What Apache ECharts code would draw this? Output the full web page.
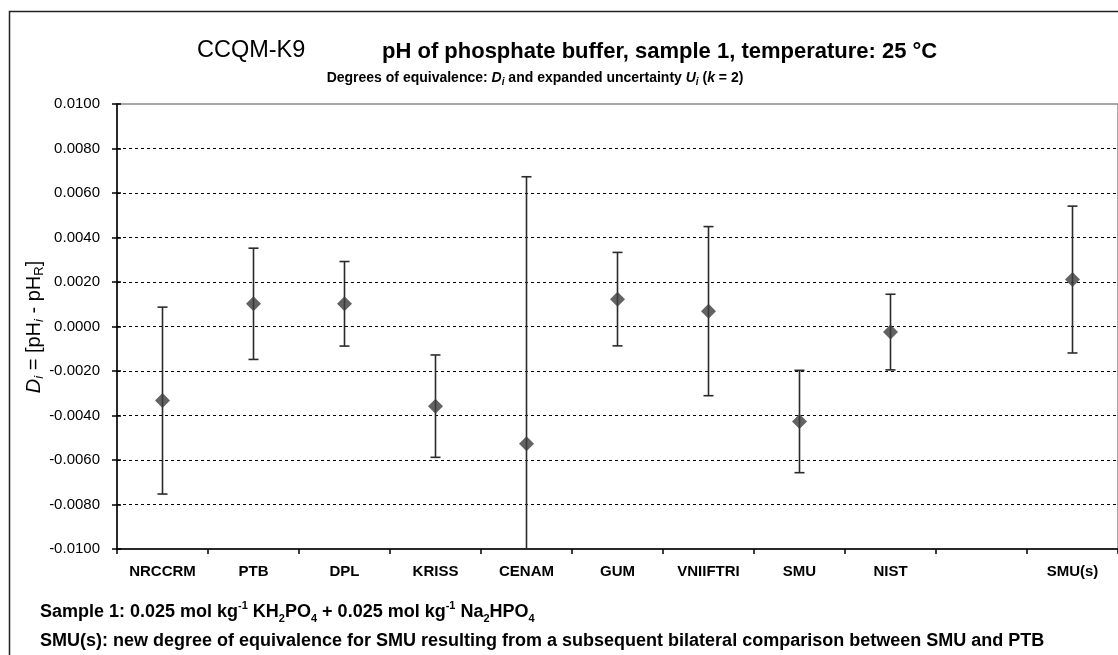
<!DOCTYPE html>
<html>
<head>
<meta charset="utf-8">
<script src="https://cdn.jsdelivr.net/npm/echarts@6/dist/echarts.min.js"></script>
<style>
html,body{margin:0;padding:0;background:#fff;}
#c{width:1118px;height:655px;}
</style>
</head>
<body>
<div id="c"></div>
<script>
// ---- data ----
const categories = ['NRCCRM','PTB','DPL','KRISS','CENAM','GUM','VNIIFTRI','SMU','NIST','','SMU(s)'];
const Di = [-0.00333, 0.00102, 0.00102, -0.00358, -0.00527, 0.00123, 0.00069, -0.00427, -0.00025, null, 0.00211];
const Ui = [0.0042, 0.0025, 0.0019, 0.0023, 0.0120, 0.0021, 0.0038, 0.0023, 0.0017, null, 0.0033];
const yMin = -0.0100, yMax = 0.0100, yStep = 0.0020;

const FONT = 'Liberation Sans, Arial, sans-serif';
const chart = echarts.init(document.getElementById('c'), null, {renderer: 'canvas'});

const points = Di.map((d, i) => d == null ? null : [i, d]);
const bars = Di.map((d, i) => d == null ? null : [i, d - Ui[i], d + Ui[i]]).filter(Boolean);
const fmt = v => (Math.abs(v) < 1e-12 ? 0 : v).toFixed(4);

chart.setOption({
  animation: false,
  backgroundColor: '#fff',
  grid: {left: 117, top: 104, right: -3, bottom: 106, show: true, borderColor: '#8a8a8a', borderWidth: 1.5},
  xAxis: {
    type: 'category', data: categories, boundaryGap: true,
    axisLine: {show: true, onZero: false, lineStyle: {color: '#000', width: 1.5}},
    axisTick: {show: true, length: 5, interval: 0, lineStyle: {color: '#000', width: 1.5}},
    axisLabel: {show: true, interval: 0, margin: 15, fontFamily: FONT, fontWeight: 'bold', fontSize: 15, color: '#000'},
    splitLine: {show: false}
  },
  yAxis: [
    {
      type: 'value', min: yMin, max: yMax, interval: yStep,
      axisLine: {show: true, lineStyle: {color: '#000', width: 1.5}},
      axisTick: {show: true, length: 5, lineStyle: {color: '#000', width: 1.5}},
      axisLabel: {margin: 17, fontFamily: FONT, fontSize: 15, color: '#000', formatter: fmt},
      splitLine: {show: true, showMinLine: false, showMaxLine: false, lineStyle: {color: '#000', width: 1, type: [3, 3]}}
    },
    {
      type: 'value', position: 'left', min: yMin, max: yMax, interval: yStep,
      axisLine: {show: false},
      axisTick: {show: true, inside: true, length: 4, lineStyle: {color: '#000', width: 1.5}},
      axisLabel: {show: false},
      splitLine: {show: false}
    }
  ],
  series: [
    {
      type: 'custom',
      data: bars,
      renderItem: function (params, api) {
        const x = api.value(0);
        const lo = Math.max(api.value(1), yMin);
        const hi = Math.min(api.value(2), yMax);
        const pLo = api.coord([x, lo]);
        const pHi = api.coord([x, hi]);
        const cap = 5;
        const style = {stroke: '#2b2b2b', lineWidth: 1.6};
        const children = [
          {type: 'line', shape: {x1: pLo[0], y1: pLo[1], x2: pHi[0], y2: pHi[1]}, style: style}
        ];
        if (api.value(2) <= yMax) children.push({type: 'line', shape: {x1: pHi[0]-cap, y1: pHi[1], x2: pHi[0]+cap, y2: pHi[1]}, style: style});
        if (api.value(1) >= yMin) children.push({type: 'line', shape: {x1: pLo[0]-cap, y1: pLo[1], x2: pLo[0]+cap, y2: pLo[1]}, style: style});
        return {type: 'group', children: children};
      },
      z: 3
    },
    {
      type: 'scatter',
      data: points,
      symbol: 'diamond',
      symbolSize: [15, 15],
      itemStyle: {color: '#3c3c3c'},
      z: 4
    }
  ],
  graphic: [
    {type: 'rect', shape: {x: 9.5, y: 11.5, width: 1300, height: 800}, style: {fill: null, stroke: '#222', lineWidth: 1.5}, z: 100},
    {type: 'text', x: 197, y: 51, style: {text: 'CCQM-K9', font: '23.5px ' + FONT, fill: '#000', textVerticalAlign: 'middle'}},
    {type: 'text', x: 382, y: 52, style: {text: 'pH of phosphate buffer, sample 1, temperature: 25 °C', font: 'bold 22px ' + FONT, fill: '#000', textVerticalAlign: 'middle'}},
    {type: 'text', x: 535, y: 78, style: {
      text: '{b|Degrees of equivalence: }{bi|D}{subi|i}{b| and expanded uncertainty }{bi|U}{subi|i}{b| (}{bi|k}{b| = 2)}',
      textAlign: 'center', textVerticalAlign: 'middle',
      rich: {
        b: {fontFamily: FONT, fontWeight: 'bold', fontSize: 14, lineHeight: 18},
        bi: {fontFamily: FONT, fontWeight: 'bold', fontStyle: 'italic', fontSize: 14, lineHeight: 18},
        subi: {fontFamily: FONT, fontWeight: 'bold', fontStyle: 'italic', fontSize: 10, lineHeight: 9, verticalAlign: 'bottom'}
      }
    }},
    {type: 'text', x: 34, y: 327, rotation: Math.PI / 2, style: {
      text: '{i|D}{subi|i}{n| = [pH}{subi|i}{n| - pH}{sub|R}{n|]}',
      textAlign: 'center', textVerticalAlign: 'middle',
      rich: {
        n: {fontFamily: FONT, fontSize: 20, lineHeight: 24},
        i: {fontFamily: FONT, fontStyle: 'italic', fontSize: 20, lineHeight: 24},
        subi: {fontFamily: FONT, fontStyle: 'italic', fontSize: 13, lineHeight: 13, verticalAlign: 'bottom'},
        sub: {fontFamily: FONT, fontSize: 13, lineHeight: 13, verticalAlign: 'bottom'}
      }
    }},
    {type: 'text', x: 40, y: 612, style: {
      text: '{b|Sample 1: 0.025 mol kg}{sup|-1}{b| KH}{sub|2}{b|PO}{sub|4}{b| + 0.025 mol kg}{sup|-1}{b| Na}{sub|2}{b|HPO}{sub|4}',
      textAlign: 'left', textVerticalAlign: 'middle',
      rich: {
        b: {fontFamily: FONT, fontWeight: 'bold', fontSize: 18, lineHeight: 24},
        sup: {fontFamily: FONT, fontWeight: 'bold', fontSize: 11, lineHeight: 14, verticalAlign: 'top'},
        sub: {fontFamily: FONT, fontWeight: 'bold', fontSize: 11, lineHeight: 12, verticalAlign: 'bottom'}
      }
    }},
    {type: 'text', x: 40, y: 641, style: {
      text: 'SMU(s): new degree of equivalence for SMU resulting from a subsequent bilateral comparison between SMU and PTB',
      font: 'bold 18px ' + FONT, fill: '#000', textVerticalAlign: 'middle'
    }}
  ]
});
</script>
</body>
</html>
